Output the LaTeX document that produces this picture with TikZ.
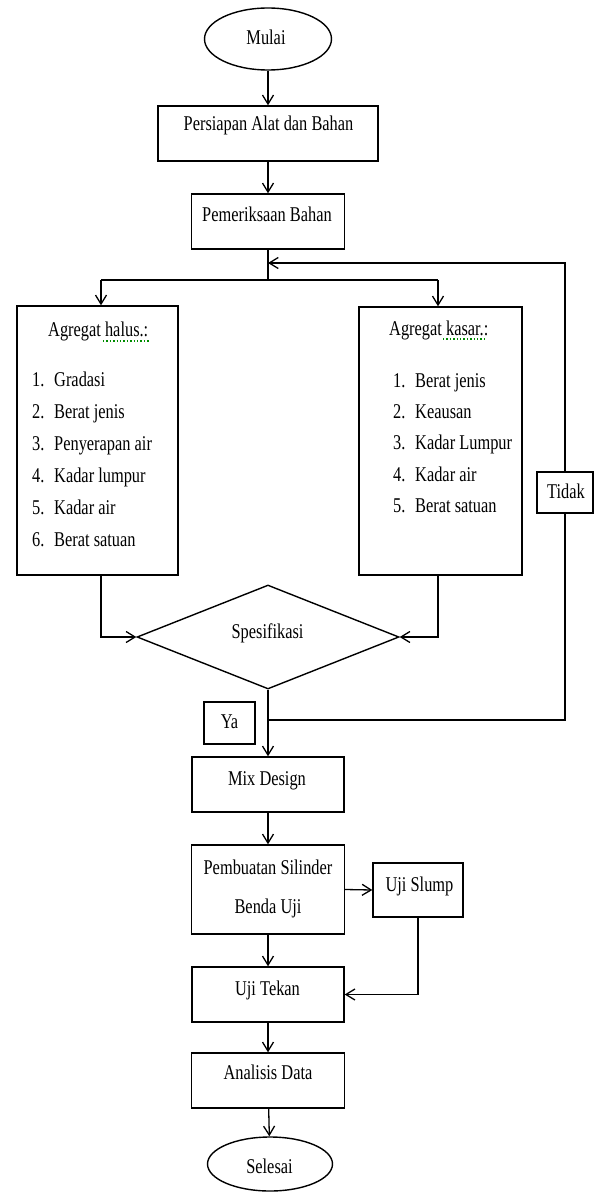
\documentclass[tikz,border=0pt]{standalone}
\usepackage{fontspec}
\setmainfont{Liberation Serif}[FakeStretch=0.78]
\usetikzlibrary{shapes.geometric,arrows.meta}
\tikzset{
  box/.style={draw, rectangle, line width=1.4pt, inner sep=0pt},
  oval/.style={draw, ellipse, line width=1.4pt, inner sep=0pt},
  dec/.style={draw, diamond, line width=1.4pt, inner sep=0pt},
  txt/.style={font=\fontsize{21}{25}\selectfont, anchor=base, inner sep=0pt},
  ltxt/.style={txt, anchor=base west},
  conn/.style={line width=1.3pt},
  arr/.style={conn, -{Straight Barb[length=9pt,width=11pt]}},
  squig/.style={green!55!black, line width=1.4pt, dotted}
}
\begin{document}
\begin{tikzpicture}[x=1pt,y=-1pt]
\fill[white] (0,0) rectangle (598,1193);
\useasboundingbox (0,0) rectangle (598,1193);

% shapes
\node[oval, minimum width=127pt, minimum height=62pt] (mulai) at (268,39) {};
\node[box, minimum width=220pt, minimum height=55pt] (persiapan) at (268,133.5) {};
\node[box, minimum width=153pt, minimum height=55pt] (pemeriksaan) at (268,221.5) {};
\node[box, minimum width=161pt, minimum height=269pt] (halus) at (97.5,440.5) {};
\node[box, minimum width=163pt, minimum height=268pt] (kasar) at (440.5,441) {};
\node[dec, minimum width=262pt, minimum height=104pt] (spek) at (268,637) {};
\node[box, minimum width=56pt, minimum height=41pt, fill=white] (tidak) at (565,492.5) {};
\node[box, minimum width=51pt, minimum height=42pt] (ya) at (229.5,723) {};
\node[box, minimum width=152pt, minimum height=55pt] (mix) at (268,784.5) {};
\node[box, minimum width=153pt, minimum height=89pt] (pembuatan) at (268,889.5) {};
\node[box, minimum width=90pt, minimum height=54pt] (slump) at (418,890) {};
\node[box, minimum width=152pt, minimum height=55pt] (tekan) at (268,994.5) {};
\node[box, minimum width=153pt, minimum height=55pt] (analisis) at (268,1080.5) {};
\node[oval, minimum width=125pt, minimum height=54pt] (selesai) at (270,1164) {};

% texts
\node[txt] (tmulai) at (266,45) {Mulai};
\node[txt] (tpersiapan) at (268.5,131) {Persiapan Alat dan Bahan};
\node[txt] (tpemeriksaan) at (267,222) {Pemeriksaan Bahan};
\node[ltxt] (thalus) at (48,336) {Agregat halus.:};
\node[ltxt] (h1n) at (32,386) {1.}; \node[ltxt] (h1) at (54,386) {Gradasi};
\node[ltxt] (h2n) at (32,418) {2.}; \node[ltxt] (h2) at (54,418) {Berat jenis};
\node[ltxt] (h3n) at (32,450) {3.}; \node[ltxt] (h3) at (54,450) {Penyerapan air};
\node[ltxt] (h4n) at (32,482) {4.}; \node[ltxt] (h4) at (54,482) {Kadar lumpur};
\node[ltxt] (h5n) at (32,514) {5.}; \node[ltxt] (h5) at (54,514) {Kadar air};
\node[ltxt] (h6n) at (32,546) {6.}; \node[ltxt] (h6) at (54,546) {Berat satuan};
\node[ltxt] (tkasar) at (389,335) {Agregat kasar.:};
\node[ltxt] (k1n) at (393,387) {1.}; \node[ltxt] (k1) at (415,387) {Berat jenis};
\node[ltxt] (k2n) at (393,418) {2.}; \node[ltxt] (k2) at (415,418) {Keausan};
\node[ltxt] (k3n) at (393,449.5) {3.}; \node[ltxt] (k3) at (415,449.5) {Kadar Lumpur};
\node[ltxt] (k4n) at (393,481) {4.}; \node[ltxt] (k4) at (415,481) {Kadar air};
\node[ltxt] (k5n) at (393,512) {5.}; \node[ltxt] (k5) at (415,512) {Berat satuan};
\node[txt] (ttidak) at (566,498) {Tidak};
\node[txt] (tspek) at (267.5,638) {Spesifikasi};
\node[txt] (tya) at (229.5,728) {Ya};
\node[txt] (tmix) at (267,785) {Mix Design};
\node[txt] (tpemb1) at (268,874) {Pembuatan Silinder};
\node[txt] (tpemb2) at (268,913) {Benda Uji};
\node[txt] (tslump) at (419.5,891) {Uji Slump};
\node[txt] (ttekan) at (267.5,995) {Uji Tekan};
\node[txt] (tanalisis) at (268,1079) {Analisis Data};
\node[txt] (tselesai) at (269.5,1173) {Selesai};

% spell-check squiggles
\draw[squig] (103,341) -- (150,341);
\draw[squig] (443,339) -- (487,339);

% junction coordinates
\coordinate (jsplit) at (268,280);
\coordinate (jl) at (101,280);
\coordinate (jr) at (438,280);
\coordinate (jback) at (268,263);
\coordinate (jya) at (268,720);

% connectors
\draw[arr] (mulai) -- (persiapan);
\draw[arr] (persiapan) -- (pemeriksaan);
\draw[conn] (pemeriksaan.south) -- (jsplit);
\draw[conn] (jl) -- (jr);
\draw[arr] (jl) -- (halus.north -| jl);
\draw[arr] (jr) -- (kasar.north -| jr);
\draw[arr] (halus.south -| jl) |- (spek.west);
\draw[arr] (kasar.south -| jr) |- (spek.east);
\draw[arr] (spek.south) -- (mix.north);
\draw[conn] (jya) -| (tidak.south);
\draw[arr] (tidak.north) |- (jback);
\draw[arr] (mix) -- (pembuatan);
\draw[arr] (pembuatan.east) -- (slump.west);
\draw[arr] (slump.south) |- (tekan.east);
\draw[arr] (pembuatan) -- (tekan);
\draw[arr] (tekan) -- (analisis);
\draw[arr] (analisis) -- (selesai);
\end{tikzpicture}
\end{document}
